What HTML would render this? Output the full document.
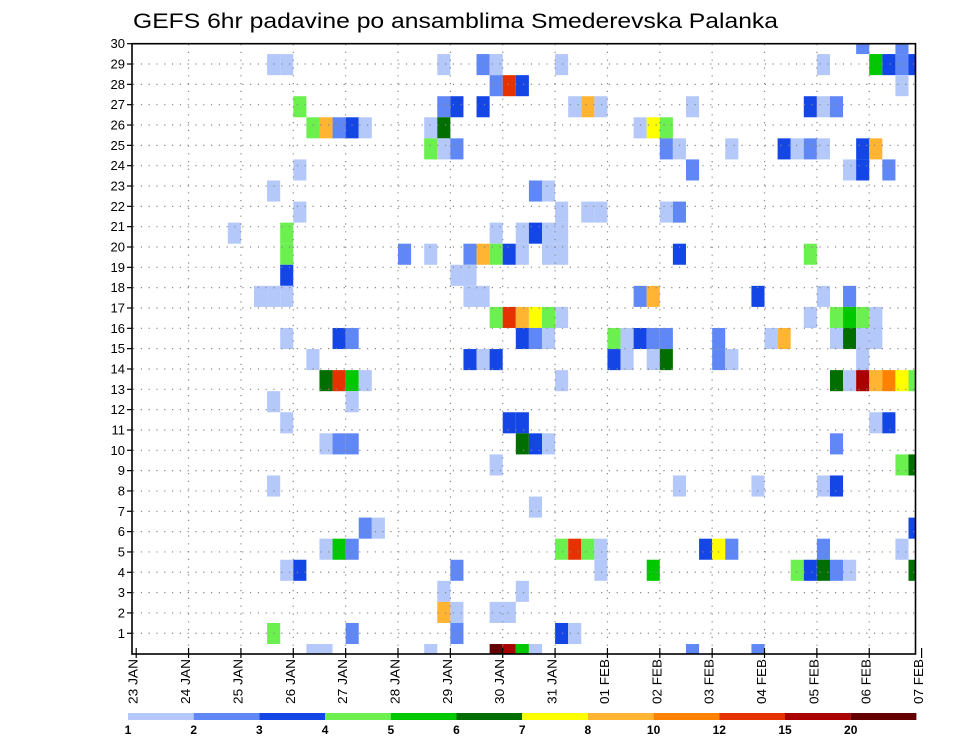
<!DOCTYPE html>
<html><head><meta charset="utf-8"><style>
html,body{margin:0;padding:0;background:#fff;}
svg{display:block;font-family:"Liberation Sans",sans-serif;}
</style></head><body>
<svg id="chart" width="960" height="742" viewBox="0 0 960 742" xmlns="http://www.w3.org/2000/svg">
<text x="133" y="28" font-size="21" textLength="645" lengthAdjust="spacingAndGlyphs" fill="#000">GEFS 6hr padavine po ansamblima Smederevska Palanka</text>
<defs><clipPath id="plotclip"><rect x="132" y="43.7" width="783.5" height="610.3"/></clipPath></defs>
<g id="cells" clip-path="url(#plotclip)"></g>
<g id="grid"></g>
<rect x="132" y="43.7" width="783.5" height="610.3" fill="none" stroke="#000" stroke-width="1.6"/>
<g id="yaxis"></g>
<g id="xaxis"></g>
<g id="legend"></g>
</svg>
<script>
// ---- data ----
const dayLabels = ["23 JAN","24 JAN","25 JAN","26 JAN","27 JAN","28 JAN","29 JAN","30 JAN","31 JAN","01 FEB","02 FEB","03 FEB","04 FEB","05 FEB","06 FEB","07 FEB"];
const memberTicks = [1,2,3,4,5,6,7,8,9,10,11,12,13,14,15,16,17,18,19,20,21,22,23,24,25,26,27,28,29,30];
const legendLevels = [1,2,3,4,5,6,7,8,10,12,15,20];
const legendLabels = ["1","2","3","4","5","6","7","8","10","12","15","20"];
const cellStep = [55,58, 10,11,23,26,27,32,52,56,57,58,59, 27,28,29,58, 12,23,24,26,33,34,35,42,51,52,53, 13,14,15,16,17,22,23,38,39,40, 22,23,24,40,41,45,49,50,51,52,55,56, 12,42,54,55,57, 10,30,31, 12,32,34,35,40,41, 7,11,27,29,30,31,32, 11,20,22,25,26,27,28,29,31,32,41,51, 11,24,25, 9,10,11,25,26,38,39,47,52,54, 27,28,29,30,31,32,51,53,54,55,56, 11,15,16,29,30,31,36,37,38,39,40,44,48,49,53,54,55,56, 13,25,26,27,36,37,39,40,44,45,55, 14,15,16,17,32,53,54,55,56,57,58,59, 10,16, 11,28,29,56,57, 14,15,16,29,30,31,53, 27,58,59, 10,41,47,52,53, 30, 17,18,59, 14,15,16,32,33,34,35,43,44,45,52,58, 11,12,24,35,39,50,51,52,53,54,59, 23,29, 23,24,27,28, 10,16,24,32,33, 13,14,22,27,28,29,30,42,47];
const cellMember = [30,30, 29,29,29,29,29,29,29,29,29,29,29, 28,28,28,28, 27,27,27,27,27,27,27,27,27,27,27, 26,26,26,26,26,26,26,26,26,26, 25,25,25,25,25,25,25,25,25,25,25,25, 24,24,24,24,24, 23,23,23, 22,22,22,22,22,22, 21,21,21,21,21,21,21, 20,20,20,20,20,20,20,20,20,20,20,20, 19,19,19, 18,18,18,18,18,18,18,18,18,18, 17,17,17,17,17,17,17,17,17,17,17, 16,16,16,16,16,16,16,16,16,16,16,16,16,16,16,16,16,16, 15,15,15,15,15,15,15,15,15,15,15, 14,14,14,14,14,14,14,14,14,14,14,14, 13,13, 12,12,12,12,12, 11,11,11,11,11,11,11, 10,10,10, 9,9,9,9,9, 8, 7,7,7, 6,6,6,6,6,6,6,6,6,6,6,6, 5,5,5,5,5,5,5,5,5,5,5, 4,4, 3,3,3,3, 2,2,2,2,2, 1,1,1,1,1,1,1,1,1];
const cellValue = [2.5,2.5, 1.5,1.5,1.5,2.5,1.5,1.5,1.5,5.5,3.5,2.5,3.5, 2.5,13.5,3.5,1.5, 4.5,2.5,3.5,3.5,1.5,9,1.5,1.5,3.5,1.5,2.5, 4.5,9,2.5,3.5,1.5,1.5,6.5,1.5,7.5,4.5, 4.5,1.5,2.5,2.5,1.5,1.5,3.5,1.5,2.5,1.5,3.5,9, 1.5,2.5,1.5,3.5,2.5, 1.5,2.5,1.5, 1.5,1.5,1.5,1.5,1.5,2.5, 1.5,4.5,1.5,1.5,3.5,1.5,1.5, 4.5,2.5,1.5,2.5,9,4.5,3.5,1.5,1.5,1.5,3.5,4.5, 3.5,1.5,1.5, 1.5,1.5,1.5,1.5,1.5,2.5,9,3.5,1.5,2.5, 4.5,13.5,9,7.5,4.5,1.5,1.5,4.5,5.5,4.5,1.5, 1.5,3.5,2.5,3.5,2.5,1.5,4.5,1.5,3.5,2.5,2.5,2.5,1.5,9,1.5,6.5,1.5,1.5, 1.5,3.5,1.5,3.5,3.5,1.5,1.5,6.5,2.5,1.5,1.5, 6.5,13.5,5.5,1.5,1.5,6.5,1.5,17,9,11,7.5,4.5, 1.5,1.5, 1.5,3.5,3.5,1.5,3.5, 1.5,2.5,2.5,6.5,3.5,1.5,2.5, 1.5,4.5,6.5, 1.5,1.5,1.5,1.5,3.5, 1.5, 2.5,1.5,3.5, 1.5,5.5,2.5,4.5,13.5,4.5,1.5,3.5,7.5,2.5,2.5,1.5, 1.5,3.5,2.5,1.5,5.5,4.5,3.5,6.5,2.5,1.5,6.5, 1.5,1.5, 9,1.5,1.5,1.5, 4.5,2.5,2.5,3.5,1.5, 1.5,1.5,1.5,22,17,5.5,1.5,2.5,2.5];

// ---- styles / scales ----
const colors = ["#b4c8fa","#5f87f5","#1446e6","#6cf050","#00c800","#006e00","#ffff00","#ffb432","#ff8200","#e63200","#aa0000","#640000"];
const NS = "http://www.w3.org/2000/svg";
const X0 = 136.2, STEP = 13.09, DAY = STEP * 4;
const CELL_Y0 = 665.1, CELL_H = 21.07;
const ROW_Y0 = 653.6, ROW_H = 20.33;
function xStep(i){ return X0 + i * STEP; }
function xDay(d){ return X0 + d * DAY; }
function yCellTop(m){ return CELL_Y0 - m * CELL_H; }
function yRow(k){ return ROW_Y0 - k * ROW_H; }
function colorFor(v){
  let idx = -1;
  for (let i = 0; i < legendLevels.length; i++) if (v >= legendLevels[i]) idx = i;
  return idx < 0 ? null : colors[idx];
}
function mk(tag, attrs, parent){
  const e = document.createElementNS(NS, tag);
  for (const k in attrs) e.setAttribute(k, attrs[k]);
  parent.appendChild(e); return e;
}

// cells
const gc = document.getElementById('cells');
for (let i = 0; i < cellStep.length; i++) {
  const c = colorFor(cellValue[i]); if (!c) continue;
  const r = mk('rect', {x: xStep(cellStep[i]).toFixed(2), y: yCellTop(cellMember[i]).toFixed(2), width: STEP.toFixed(2), height: CELL_H.toFixed(2), fill: c}, gc);
  
  
}

// grid
const gg = document.getElementById('grid');
for (let d = 1; d < dayLabels.length - 1; d++) {
  const l = mk('line', {x1: xDay(d), x2: xDay(d), y1: 44, y2: 654, stroke: '#888', 'stroke-width': 1.2, 'stroke-dasharray': '1.2,6.6'}, gg);
  
  
}
for (let k = 1; k < memberTicks.length; k++) {
  const y = yRow(memberTicks[k-1]);
  const l = mk('line', {x1: 133, x2: 915, y1: y, y2: y, stroke: '#888', 'stroke-width': 1.2, 'stroke-dasharray': '1.2,6.6'}, gg);
  
  
}

// y axis
const gy = document.getElementById('yaxis');
memberTicks.forEach(k => {
  const y = yRow(k);
  const t = mk('line', {x1: 127, x2: 132, y1: y, y2: y, stroke: '#000', 'stroke-width': 1.2}, gy);
  
  
  const tx = mk('text', {x: 125, y: y + 4.5, 'font-size': 13, 'text-anchor': 'end', fill: '#000'}, gy);
  tx.textContent = String(k);
  
  
});

// x axis
const gx = document.getElementById('xaxis');
dayLabels.forEach((lab, d) => {
  const x = xDay(d);
  const t = mk('line', {x1: x, x2: x, y1: 648, y2: 658, stroke: '#000', 'stroke-width': 1.2}, gx);
  
  
  const tx = mk('text', {x: 0, y: 0, 'font-size': 13, 'text-anchor': 'end', textLength: 45, lengthAdjust: 'spacingAndGlyphs', fill: '#000', transform: 'translate(' + (x + 1.5).toFixed(1) + ',659) rotate(-90)'}, gx);
  tx.textContent = lab;
  
  
});

// legend
const gl = document.getElementById('legend');
const LX = 128, LW = 65.7;
legendLevels.forEach((lv, i) => {
  const r = mk('rect', {x: (LX + i * LW).toFixed(1), y: 713, width: LW.toFixed(1), height: 7, fill: colors[i]}, gl);
  
  
  const tx = mk('text', {x: (LX + i * LW).toFixed(1), y: 734, 'font-size': 12, 'font-weight': 'bold', 'text-anchor': 'middle', fill: '#000'}, gl);
  tx.textContent = legendLabels[i];
  
  
});
</script>
</body></html>
